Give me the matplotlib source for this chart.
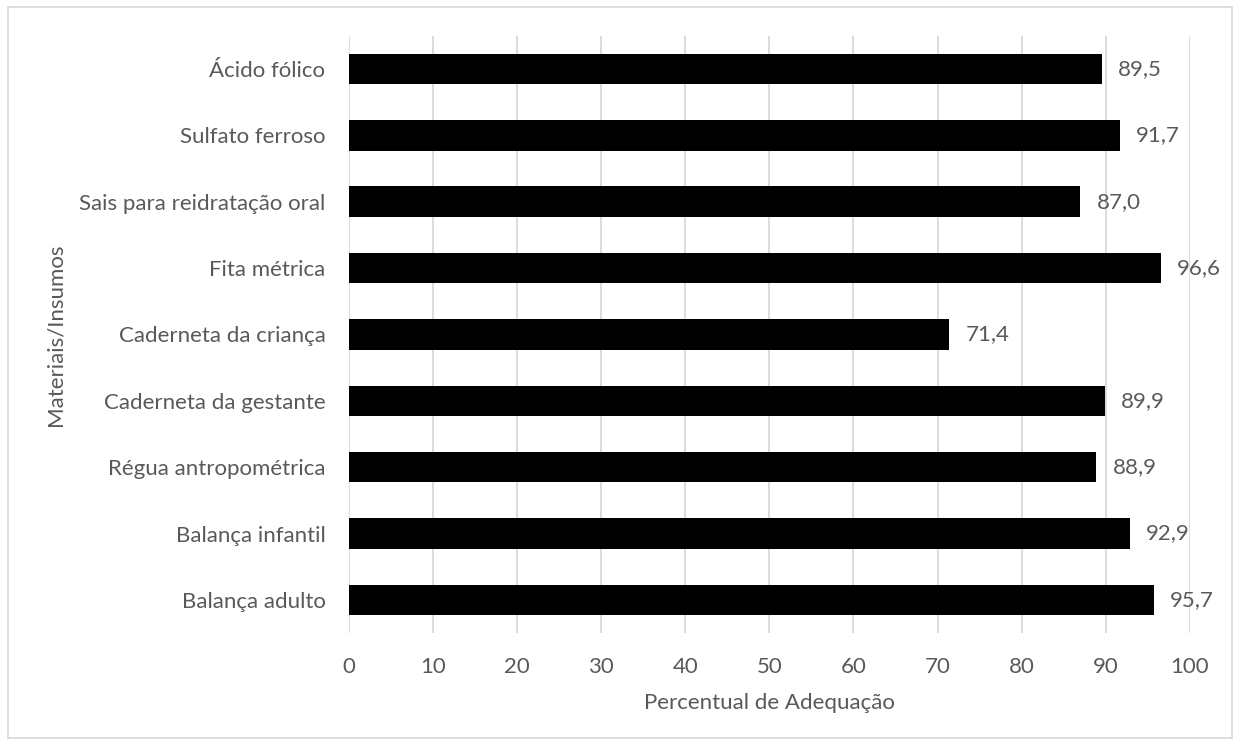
import matplotlib
matplotlib.use("Agg")
import matplotlib.pyplot as plt
from matplotlib.patches import Rectangle

plt.rcParams['font.family'] = ['Lato', 'DejaVu Sans']

categorias = ["Balança adulto", "Balança infantil", "Régua antropométrica",
              "Caderneta da gestante", "Caderneta da criança", "Fita métrica",
              "Sais para reidratação oral", "Sulfato ferroso", "Ácido fólico"]
valores = [95.7, 92.9, 88.9, 89.9, 71.4, 96.6, 87.0, 91.7, 89.5]
rotulos = ["95,7", "92,9", "88,9", "89,9", "71,4", "96,6", "87,0", "91,7", "89,5"]
xticks = list(range(0, 101, 10))

cinza = '#595959'
fig = plt.figure(figsize=(12.4, 7.44), dpi=100)
ax = fig.add_axes([0.2815, 0.149, 0.678, 0.803])

pos = range(len(categorias))
ax.barh(pos, valores, height=0.46, color='black', zorder=3)
for p, v, r in zip(pos, valores, rotulos):
    ax.text(v + 1.9, p, r, va='center', ha='left', fontsize=16, color=cinza)

ax.set_xlim(0, 100)
ax.set_ylim(-0.5, len(categorias) - 0.5)
ax.set_yticks(list(pos))
ax.set_yticklabels(categorias)
ax.set_xticks(xticks)
ax.tick_params(length=0, labelsize=16, colors=cinza)
ax.tick_params(axis='x', pad=17)
ax.tick_params(axis='y', pad=17)
ax.grid(axis='x', color='#d9d9d9', linewidth=1.3, zorder=0)
for s in ax.spines.values():
    s.set_visible(False)
ax.set_xlabel("Percentual de Adequação", fontsize=16, color=cinza, labelpad=12)
ax.set_ylabel("Materiais/Insumos", fontsize=16, color=cinza, labelpad=10)

fig.patches.append(Rectangle((0.0065, 0.008), 0.987, 0.982, transform=fig.transFigure,
                             fill=False, edgecolor='#d9d9d9', linewidth=1.2))

fig.savefig("out.png", dpi=100, facecolor='white')
